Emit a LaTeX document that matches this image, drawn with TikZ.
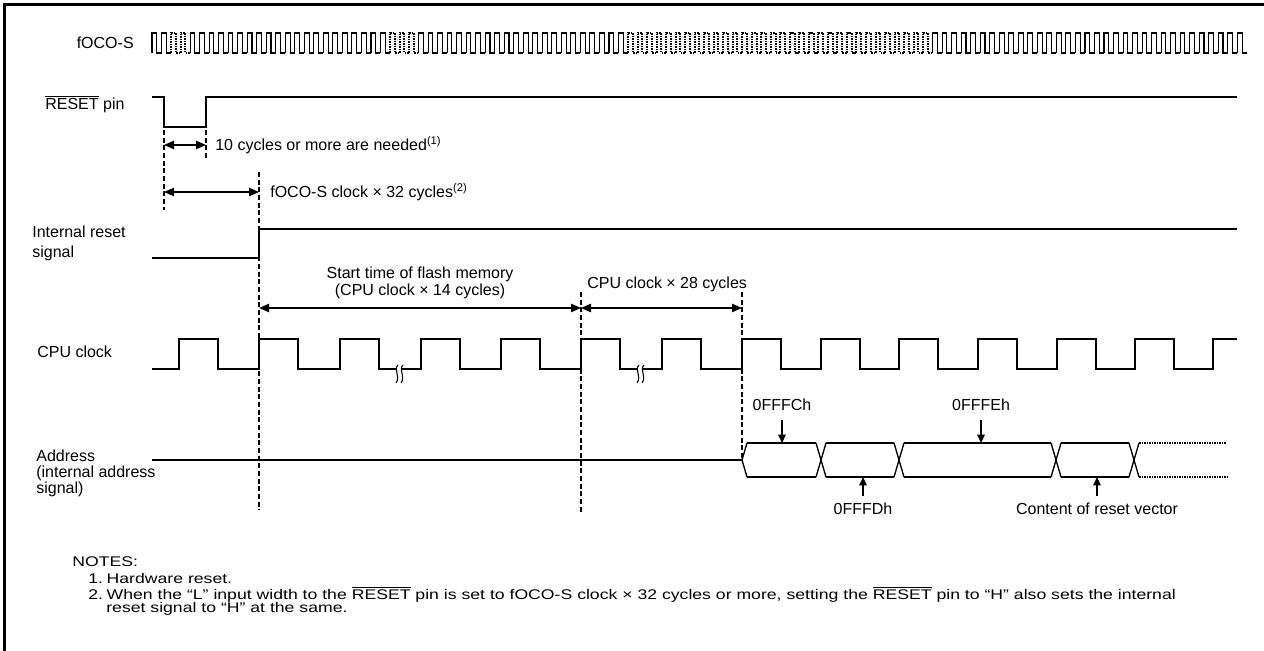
\documentclass[tikz,border=0pt]{standalone}
\usepackage{fontspec}
\setmainfont{Liberation Sans}
\newfontfamily\notefont[FakeStretch=1.26]{Liberation Sans}
\usepackage{tikz}
\usetikzlibrary{arrows.meta,positioning}

\begin{document}
\begin{tikzpicture}[x=0.6pt,y=-0.6pt,font=\fontsize{9.6}{10}\selectfont]
		\tikzstyle{sig}=[line width=0.8pt]
		\tikzstyle{clk}=[line width=0.65pt]
		\tikzstyle{clkdot}=[line width=1.2pt, dash pattern=on 1pt off 0.5pt]
		\tikzstyle{guide}=[line width=1.2pt, dash pattern=on 3pt off 1.6pt]
		\tikzstyle{dim}=[line width=0.8pt, {Triangle[length=6pt,width=5pt]}-{Triangle[length=6pt,width=5pt]}]
		\tikzstyle{ptr}=[line width=0.8pt, -{Triangle[length=5pt,width=4.5pt]}]
		\tikzstyle{lbl}=[inner sep=0pt]
		\tikzstyle{note}=[inner sep=0pt, anchor=west, font=\notefont\fontsize{8.4}{10}\selectfont]
		
		\useasboundingbox (0,0) rectangle (1264,651);
		% Frame
		\draw[line width=1.8pt] (4.5,651) -- (4.5,5) -- (1264,5);
		
		% fOCO-S
		\node[lbl, anchor=east] (foco) at (134,43) {fOCO-S};
		\def\per{9.52}
		\foreach \k in {0,...,114}{
			\tikzset{wave/.style=clk}
			\ifnum\k>1 \ifnum\k<4 \tikzset{wave/.style=clkdot}\fi\fi
			\ifnum\k>24 \ifnum\k<28 \tikzset{wave/.style=clkdot}\fi\fi
			\ifnum\k>49 \ifnum\k<82 \tikzset{wave/.style=clkdot}\fi\fi
			\draw[wave] (152+\k*\per,53) -- (152+\k*\per,33) -- (152+\k*\per+\per/2,33) -- (152+\k*\per+\per/2,53) -- (152+\k*\per+\per,53);
		}
		
		% RESET pin
		\node[lbl, anchor=west] (rst) at (45,104) {$\overline{\mbox{RESET}}$ pin};
		\coordinate (rst_f) at (164,127);
		\coordinate (rst_r) at (206,127);
		\draw[sig] (152,97) -| (rst_f) -- (rst_r) |- (1237,97);
		
		\coordinate (a1) at (164,145);
		\coordinate (a2) at (206,145);
		\draw[dim] (a1) -- (a2);
		\node[lbl, anchor=west] (need) at (215,145) {10 cycles or more are needed\textsuperscript{(1)}};
		
		\coordinate (b1) at (164,192);
		\coordinate (b2) at (259,192);
		\draw[dim] (b1) -- (b2);
		\node[lbl, anchor=west] (n32) at (270,192) {fOCO-S clock × 32 cycles\textsuperscript{(2)}};
		
		% Internal reset signal
		\node[lbl, anchor=west, align=left] (irs) at (32,243) {Internal reset\\[2pt]signal};
		\draw[sig] (152,258) -| (259,229) -- (1237,229);
		
		% Flash memory start
		\coordinate (c1) at (259,308);
		\coordinate (c2) at (581,308);
		\coordinate (c3) at (742,308);
		\draw[dim] (c1) -- (c2);
		\draw[dim] (c2) -- (c3);
		\node[lbl, align=center] (flash) at (420,283) {Start time of flash memory\\(CPU clock × 14 cycles)};
		\node[lbl, anchor=west] (n28) at (587,284) {CPU clock × 28 cycles};
		
		% CPU clock
		\node[lbl, anchor=west] (cpu) at (37,352) {CPU clock};
		\draw[sig] (152,369) \foreach \r in {179,259,340} { -- (\r,369) -- (\r,339) -- (\r+39,339) -- (\r+39,369) } -- (397,369);
		\draw[sig] (402,369) \foreach \r in {421,501,581} { -- (\r,369) -- (\r,339) -- (\r+39,339) -- (\r+39,369) } -- (638,369);
		\draw[sig] (643,369) \foreach \r in {662,742,821,899,978,1057,1135} { -- (\r,369) -- (\r,339) -- (\r+39,339) -- (\r+39,369) } -- (1213,369) -- (1213,339) -- (1237,339);
		\foreach \x in {397,402,638,643}
		\draw[clk] (\x+1,365) .. controls (\x-4,370) and (\x+4,376) .. (\x-1,383);
		
		% Address
		\node[lbl, anchor=west, align=left, font=\fontsize{9.6}{9.6}\selectfont] (addr) at (36,473) {Address\\(internal address\\signal)};
		\coordinate (bus0) at (742,460);
		\draw[sig] (152,460) -- (bus0);
		\draw[sig] (747,443) -- (bus0) -- (747,477);
		\foreach \a/\b in {747/816,826/894,904/1051,1061/1129}{
			\draw[sig] (\a,443) -- (\b,443);
			\draw[sig] (\a,477) -- (\b,477);
		}
		\foreach \c in {821,899,1056,1134}{
			\draw[sig] (\c-5,443) -- (\c+5,477);
			\draw[sig] (\c-5,477) -- (\c+5,443);
		}
		\draw[clkdot] (1139,443) -- (1226,443);
		\draw[clkdot] (1139,477) -- (1228,477);
		
		% Bus labels
		\node[lbl] (fffc) at (782,405) {0FFFCh};
		\node[lbl] (fffe) at (981,405) {0FFFEh};
		\node[lbl] (fffd) at (863,509) {0FFFDh};
		\node[lbl] (vec) at (1097,509) {Content of reset vector};
		\coordinate (fffc_p) at (782,443);
		\coordinate (fffe_p) at (981,443);
		\coordinate (fffd_p) at (863,477);
		\coordinate (vec_p) at (1097,477);
		\draw[ptr, shorten <=5pt] (fffc) -- (fffc_p);
		\draw[ptr, shorten <=5pt] (fffe) -- (fffe_p);
		\draw[ptr, shorten <=4pt] (fffd) -- (fffd_p);
		\draw[ptr, shorten <=4pt] (vec) -- (vec_p);
		
		% Dashed guides
		\draw[guide] (164,130) -- (164,210);
		\draw[guide] (206,130) -- (206,158);
		\draw[guide] (259,172) -- (259,510);
		\draw[guide] (581,292) -- (581,513);
		\draw[guide] (742,292) -- (742,460);
		
		% Notes
		\node[note] (notes) at (72,562) {NOTES:};
		\node[note] (note1) at (88,578) {\makebox[11pt][l]{1.}Hardware reset.};
		\node[note] (note2) at (88,594) {\makebox[11pt][l]{2.}When the “L” input width to the $\overline{\mbox{RESET}}$ pin is set to fOCO-S clock × 32 cycles or more, setting the $\overline{\mbox{RESET}}$ pin to “H” also sets the internal};
		\node[note] (note2b) at (106,609) {reset signal to “H” at the same.};
		
\end{tikzpicture}
\end{document}
